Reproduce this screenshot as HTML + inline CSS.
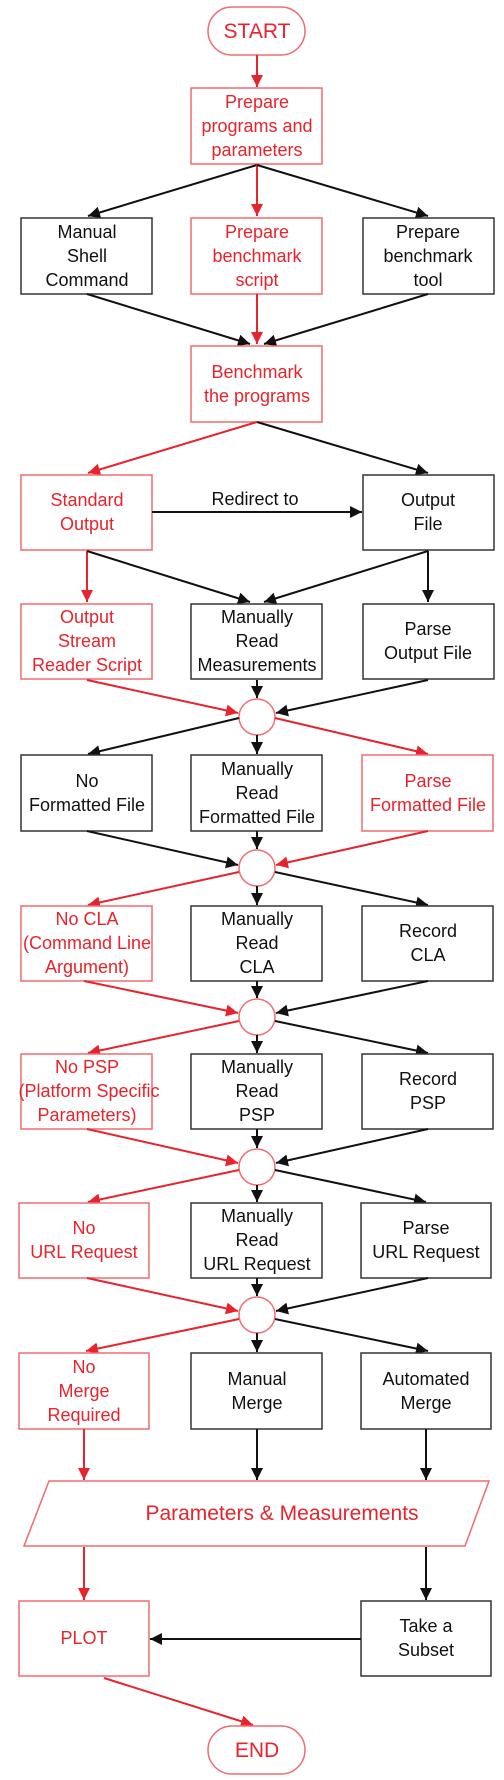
<!DOCTYPE html>
<html><head><meta charset="utf-8"><style>
html,body{margin:0;padding:0;background:#fff;}
svg{display:block;}
text{font-family:"Liberation Sans",sans-serif;font-size:18px;text-anchor:middle;}
.r{fill:#e8232b;} .k{fill:#111;}
.br{fill:#fff;stroke:#f06a70;stroke-width:1.5;}
.bk{fill:#fff;stroke:#333;stroke-width:1.5;}
.lr{stroke:#e8232b;stroke-width:2;fill:none;marker-end:url(#ar);}
.lk{stroke:#111;stroke-width:2;fill:none;marker-end:url(#ak);}
</style></head><body>
<svg width="504" height="1780" viewBox="0 0 504 1780" xmlns="http://www.w3.org/2000/svg">
<defs>
<marker id="ar" viewBox="0 0 10 10" refX="10" refY="5" markerWidth="6" markerHeight="6" orient="auto" markerUnits="strokeWidth"><path d="M0,0 L10,5 L0,10 z" fill="#e8232b"/></marker>
<marker id="ak" viewBox="0 0 10 10" refX="10" refY="5" markerWidth="6" markerHeight="6" orient="auto" markerUnits="strokeWidth"><path d="M0,0 L10,5 L0,10 z" fill="#111"/></marker>
</defs>

<rect x="208" y="7" width="97" height="48" rx="24" class="br"/>
<text x="257" y="38" class="r" style="font-size:21px">START</text>
<line x1="257" y1="55" x2="257" y2="87" class="lr"/>

<rect x="191" y="88" width="131" height="76" class="br"/>
<text x="257" y="108" class="r">Prepare</text><text x="257" y="132" class="r">programs and</text><text x="257" y="156" class="r">parameters</text>

<line x1="257" y1="165" x2="88" y2="216" class="lk"/>
<line x1="257" y1="165" x2="257" y2="216" class="lr"/>
<line x1="257" y1="165" x2="428" y2="216" class="lk"/>

<rect x="21" y="218" width="131" height="76" class="bk"/>
<text x="87" y="238" class="k">Manual</text><text x="87" y="262" class="k">Shell</text><text x="87" y="286" class="k">Command</text>
<rect x="191" y="218" width="131" height="76" class="br"/>
<text x="257" y="238" class="r">Prepare</text><text x="257" y="262" class="r">benchmark</text><text x="257" y="286" class="r">script</text>
<rect x="363" y="218" width="131" height="76" class="bk"/>
<text x="428" y="238" class="k">Prepare</text><text x="428" y="262" class="k">benchmark</text><text x="428" y="286" class="k">tool</text>

<line x1="87" y1="294" x2="250" y2="344" class="lk"/>
<line x1="428" y1="294" x2="264" y2="344" class="lk"/>
<line x1="257" y1="294" x2="257" y2="344" class="lr"/>

<rect x="191" y="346" width="131" height="76" class="br"/>
<text x="257" y="378" class="r">Benchmark</text><text x="257" y="402" class="r">the programs</text>

<line x1="257" y1="422" x2="88" y2="473" class="lr"/>
<line x1="257" y1="422" x2="428" y2="473" class="lk"/>

<rect x="21" y="475" width="131" height="75" class="br"/>
<text x="87" y="506" class="r">Standard</text><text x="87" y="530" class="r">Output</text>
<rect x="363" y="475" width="131" height="75" class="bk"/>
<text x="428" y="506" class="k">Output</text><text x="428" y="530" class="k">File</text>
<line x1="152" y1="512" x2="362" y2="512" class="lk"/>
<text x="255" y="505" class="k">Redirect to</text>

<line x1="87" y1="551" x2="87" y2="602" class="lr"/>
<line x1="87" y1="551" x2="250" y2="602" class="lk"/>
<line x1="428" y1="551" x2="264" y2="602" class="lk"/>
<line x1="428" y1="551" x2="428" y2="602" class="lk"/>

<rect x="21" y="604" width="131" height="75" class="br"/>
<text x="87" y="623" class="r">Output</text><text x="87" y="647" class="r">Stream</text><text x="87" y="671" class="r">Reader Script</text>
<rect x="191" y="604" width="131" height="75" class="bk"/>
<text x="257" y="623" class="k">Manually</text><text x="257" y="647" class="k">Read</text><text x="257" y="671" class="k">Measurements</text>
<rect x="363" y="604" width="131" height="75" class="bk"/>
<text x="428" y="635" class="k">Parse</text><text x="428" y="659" class="k">Output File</text>

<line x1="87" y1="680" x2="238" y2="713" class="lr"/>
<line x1="257" y1="680" x2="257" y2="698" class="lk"/>
<line x1="428" y1="680" x2="276" y2="713" class="lk"/>
<circle cx="257" cy="717" r="18" class="br"/>
<line x1="239" y1="718" x2="88" y2="754" class="lk"/>
<line x1="257" y1="735" x2="257" y2="754" class="lk"/>
<line x1="275" y1="718" x2="428" y2="754" class="lr"/>

<rect x="21" y="755" width="131" height="76" class="bk"/>
<text x="87" y="787" class="k">No</text><text x="87" y="811" class="k">Formatted File</text>
<rect x="191" y="755" width="131" height="76" class="bk"/>
<text x="257" y="775" class="k">Manually</text><text x="257" y="799" class="k">Read</text><text x="257" y="823" class="k">Formatted File</text>
<rect x="362" y="755" width="131" height="76" class="br"/>
<text x="428" y="787" class="r">Parse</text><text x="428" y="811" class="r">Formatted File</text>

<line x1="87" y1="831" x2="238" y2="865" class="lk"/>
<line x1="257" y1="831" x2="257" y2="849" class="lk"/>
<line x1="428" y1="831" x2="276" y2="865" class="lr"/>
<circle cx="257" cy="868" r="18" class="br"/>
<line x1="239" y1="872" x2="88" y2="905" class="lr"/>
<line x1="257" y1="886" x2="257" y2="905" class="lk"/>
<line x1="275" y1="872" x2="428" y2="905" class="lk"/>

<rect x="21" y="906" width="131" height="75" class="br"/>
<text x="87" y="925" class="r">No CLA</text><text x="87" y="949" class="r">(Command Line</text><text x="87" y="973" class="r">Argument)</text>
<rect x="191" y="906" width="131" height="75" class="bk"/>
<text x="257" y="925" class="k">Manually</text><text x="257" y="949" class="k">Read</text><text x="257" y="973" class="k">CLA</text>
<rect x="362" y="906" width="131" height="75" class="bk"/>
<text x="428" y="937" class="k">Record</text><text x="428" y="961" class="k">CLA</text>

<line x1="84" y1="981" x2="238" y2="1013" class="lr"/>
<line x1="257" y1="981" x2="257" y2="998" class="lk"/>
<line x1="428" y1="981" x2="276" y2="1013" class="lk"/>
<circle cx="257" cy="1017" r="18" class="br"/>
<line x1="239" y1="1021" x2="88" y2="1053" class="lr"/>
<line x1="257" y1="1035" x2="257" y2="1053" class="lk"/>
<line x1="275" y1="1021" x2="428" y2="1053" class="lk"/>

<rect x="21" y="1054" width="131" height="75" class="br"/>
<text x="87" y="1073" class="r">No PSP</text><text x="89" y="1097" class="r">(Platform Specific</text><text x="87" y="1121" class="r">Parameters)</text>
<rect x="191" y="1054" width="131" height="75" class="bk"/>
<text x="257" y="1073" class="k">Manually</text><text x="257" y="1097" class="k">Read</text><text x="257" y="1121" class="k">PSP</text>
<rect x="362" y="1054" width="131" height="75" class="bk"/>
<text x="428" y="1085" class="k">Record</text><text x="428" y="1109" class="k">PSP</text>

<line x1="87" y1="1129" x2="238" y2="1163" class="lr"/>
<line x1="257" y1="1129" x2="257" y2="1148" class="lk"/>
<line x1="428" y1="1129" x2="276" y2="1163" class="lk"/>
<circle cx="257" cy="1167" r="18" class="br"/>
<line x1="239" y1="1170" x2="88" y2="1202" class="lr"/>
<line x1="257" y1="1185" x2="257" y2="1202" class="lk"/>
<line x1="275" y1="1170" x2="426" y2="1202" class="lk"/>

<rect x="19" y="1203" width="130" height="75" class="br"/>
<text x="84" y="1234" class="r">No</text><text x="84" y="1258" class="r">URL Request</text>
<rect x="191" y="1203" width="131" height="75" class="bk"/>
<text x="257" y="1222" class="k">Manually</text><text x="257" y="1246" class="k">Read</text><text x="257" y="1270" class="k">URL Request</text>
<rect x="361" y="1203" width="130" height="75" class="bk"/>
<text x="426" y="1234" class="k">Parse</text><text x="426" y="1258" class="k">URL Request</text>

<line x1="87" y1="1278" x2="238" y2="1311" class="lr"/>
<line x1="257" y1="1278" x2="257" y2="1296" class="lk"/>
<line x1="428" y1="1278" x2="276" y2="1311" class="lk"/>
<circle cx="257" cy="1315" r="18" class="br"/>
<line x1="239" y1="1319" x2="86" y2="1351" class="lr"/>
<line x1="257" y1="1333" x2="257" y2="1352" class="lk"/>
<line x1="275" y1="1319" x2="428" y2="1351" class="lk"/>

<rect x="19" y="1353" width="130" height="76" class="br"/>
<text x="84" y="1373" class="r">No</text><text x="84" y="1397" class="r">Merge</text><text x="84" y="1421" class="r">Required</text>
<rect x="191" y="1353" width="131" height="76" class="bk"/>
<text x="257" y="1385" class="k">Manual</text><text x="257" y="1409" class="k">Merge</text>
<rect x="361" y="1353" width="130" height="76" class="bk"/>
<text x="426" y="1385" class="k">Automated</text><text x="426" y="1409" class="k">Merge</text>

<line x1="84" y1="1429" x2="84" y2="1480" class="lr"/>
<line x1="257" y1="1429" x2="257" y2="1480" class="lk"/>
<line x1="426" y1="1429" x2="426" y2="1480" class="lk"/>

<polygon points="49,1481 489,1481 465,1546 24,1546" class="br"/>
<text x="282" y="1520" class="r" style="font-size:21px">Parameters &amp; Measurements</text>

<line x1="84" y1="1547" x2="84" y2="1600" class="lr"/>
<line x1="426" y1="1547" x2="426" y2="1600" class="lk"/>

<rect x="19" y="1601" width="130" height="75" class="br"/>
<text x="84" y="1644" class="r">PLOT</text>
<rect x="361" y="1601" width="130" height="75" class="bk"/>
<text x="426" y="1632" class="k">Take a</text><text x="426" y="1656" class="k">Subset</text>
<line x1="361" y1="1639" x2="150" y2="1639" class="lk"/>

<line x1="104" y1="1678" x2="253" y2="1725" class="lr"/>
<rect x="208" y="1726" width="97" height="48" rx="24" class="br"/>
<text x="257" y="1757" class="r" style="font-size:21px">END</text>
</svg>
</body></html>
